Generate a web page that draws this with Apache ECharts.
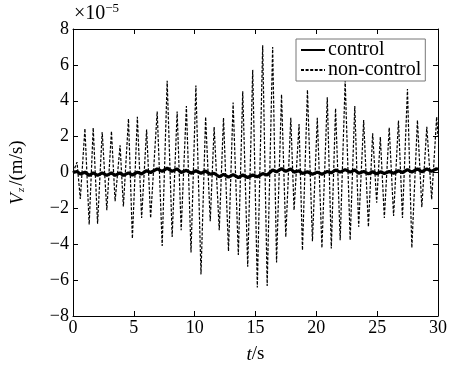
<!DOCTYPE html>
<html><head><meta charset="utf-8">
<script src="https://cdn.jsdelivr.net/npm/echarts@6/dist/echarts.min.js"></script>
<style>html,body{margin:0;padding:0;background:#fff}#c{width:450px;height:369px}</style>
</head><body><div id="c"></div>
<script>
// time samples (s)
var timeS = [0, 0.33, 0.6, 0.98, 1.33, 1.66, 2.02, 2.4, 2.78, 3.16, 3.46, 3.87, 4.14, 4.56, 4.88, 5.29, 5.64, 6.05, 6.38, 6.92,
  7.33, 7.74, 8.15, 8.56, 8.89, 9.32, 9.7, 10.1, 10.52, 10.9, 11.28, 11.6, 12.02, 12.37, 12.78, 13.16, 13.59, 13.95, 14.36, 14.77,
  15.15, 15.59, 15.96, 16.41, 16.73, 17.14, 17.49, 17.9, 18.17, 18.58, 18.86, 19.27, 19.68, 20.08, 20.46, 20.9, 21.23, 21.58, 21.96, 22.37,
  22.78, 23.16, 23.48, 23.89, 24.28, 24.63, 24.96, 25.26, 25.59, 25.99, 26.35, 26.75, 27.08, 27.49, 27.85, 28.31, 28.67, 29.08, 29.48, 29.89, 30];
// non-control Vz (x1e-5 m/s)
var nonControl = [0, 0.58, -1.47, 2.45, -2.9, 2.5, -2.85, 2.26, -2.1, 2.3, -1.6, 1.52, -1.9, 3.0, -3.68, 3.1, -2.54, 2.4, -2.54, 3.4,
  -4.09, 5.12, -3.59, 3.4, -3.22, 3.7, -4.46, 4.85, -5.68, 3.1, -2.72, 2.54, -3.22, 3.05, -4.38, 3.9, -4.6, 4.53, -5.25, 5.73,
  -6.41, 7.1, -6.32, 7.0, -5.01, 4.35, -3.59, 3.05, -2.1, 2.7, -4.33, 4.6, -3.83, 3.05, -4.2, 4.2, -4.24, 3.57, -3.77, 5.12,
  -3.77, 3.7, -3.03, 2.92, -3.03, 2.19, -1.69, 1.98, -2.54, 2.5, -2.43, 2.9, -2.54, 4.66, -4.2, 2.92, -1.93, 2.55, -1.5, 3.1, 2.0];
// control Vz (x1e-5 m/s)
var control = [0, 0.06, -0.08, 0.02, -0.16, -0.02, -0.16, -0.02, -0.16, -0.02, -0.16, -0.02, -0.16, -0.02, -0.14, 0.02, -0.08, 0.1, 0.0, 0.2,
  0.06, 0.24, 0.06, 0.2, 0.0, 0.12, -0.04, 0.1, -0.04, 0.08, -0.1, -0.04, -0.24, -0.1, -0.26, -0.12, -0.28, -0.14, -0.28, -0.14,
  -0.24, -0.06, -0.14, 0.14, 0.04, 0.22, 0.06, 0.2, 0.02, 0.1, -0.06, 0.04, -0.1, 0.02, -0.1, 0.06, -0.02, 0.14, 0.02, 0.16,
  0.02, 0.14, -0.04, 0.06, -0.08, 0.04, -0.08, 0.04, -0.06, 0.06, -0.04, 0.1, 0.0, 0.16, 0.02, 0.2, 0.04, 0.2, 0.06, 0.22, 0.15];
var xTicks = [0, 5, 10, 15, 20, 25, 30];
var yTicks = [-8, -6, -4, -2, 0, 2, 4, 6, 8];

var FONT = '"Liberation Serif", "Times New Roman", serif';
function pairs(v){ return timeS.map(function(t,i){ return [t, v[i]]; }); }
function fmt(v){ return String(v).replace('-', '\u2212'); }

var chart = echarts.init(document.getElementById('c'), null, {renderer:'canvas'});
var axisCommon = {
  axisLine:{show:true, onZero:false, lineStyle:{color:'#000', width:1}},
  axisTick:{show:true, inside:true, length:5, lineStyle:{color:'#000'}},
  splitLine:{show:false}
};
chart.setOption({
  animation:false,
  backgroundColor:'#fff',
  textStyle:{fontFamily:FONT},
  grid:{left:72, right:11, top:29, bottom:51, containLabel:false},
  xAxis:[
    Object.assign({type:'value', min:xTicks[0], max:xTicks[xTicks.length-1], interval:5, position:'bottom',
      axisLabel:{color:'#000', fontFamily:FONT, fontSize:18, margin:3},
      name:'{i|t}/s', nameLocation:'middle', nameGap:29,
      nameTextStyle:{color:'#000', fontFamily:FONT, fontSize:19, rich:{i:{fontStyle:'italic', fontFamily:FONT, fontSize:19}}}
    }, axisCommon),
    Object.assign({type:'value', min:0, max:30, interval:5, position:'top', axisLabel:{show:false}}, axisCommon)
  ],
  yAxis:[
    Object.assign({type:'value', min:yTicks[0], max:yTicks[yTicks.length-1], interval:2, position:'left',
      axisLabel:{color:'#000', fontFamily:FONT, fontSize:18, margin:4, formatter:fmt},
      name:'{i|V}{s|z}/(m/s)', nameLocation:'middle', nameGap:46, nameRotate:90,
      nameTextStyle:{color:'#000', fontFamily:FONT, fontSize:19,
        rich:{i:{fontStyle:'italic', fontFamily:FONT, fontSize:19}, s:{fontStyle:'italic', fontFamily:FONT, fontSize:11, verticalAlign:'bottom', padding:[8,2,0,1]}}}
    }, axisCommon),
    Object.assign({type:'value', min:-8, max:8, interval:2, position:'right', axisLabel:{show:false}}, axisCommon)
  ],
  legend:{
    orient:'vertical', left:296, top:39, itemGap:0, padding:[1,4,1,4],
    backgroundColor:'#fff', borderColor:'#777', borderWidth:1,
    itemWidth:24, itemHeight:12,
    itemStyle:{opacity:0, borderWidth:0},
    textStyle:{color:'#000', fontFamily:FONT, fontSize:20, padding:[0,0,0,-2]},
    data:['control','non-control']
  },
  graphic:[{
    type:'text', left:74, top:2,
    style:{text:'{a|\u00d710}{b|\u22125}', fill:'#000',
      rich:{a:{fontFamily:FONT, fontSize:20}, b:{fontFamily:FONT, fontSize:13, verticalAlign:'top', padding:[0,0,10,0]}}}
  }],
  series:[
    {name:'non-control', type:'line', data:pairs(nonControl), symbol:'none', z:2,
      lineStyle:{color:'#000', width:1.2, type:[3,1.6]}, itemStyle:{color:'#000'}},
    {name:'control', type:'line', data:pairs(control), symbol:'none', z:3,
      lineStyle:{color:'#000', width:3.2, type:'solid'}, itemStyle:{color:'#000'}}
  ]
});
</script></body></html>
